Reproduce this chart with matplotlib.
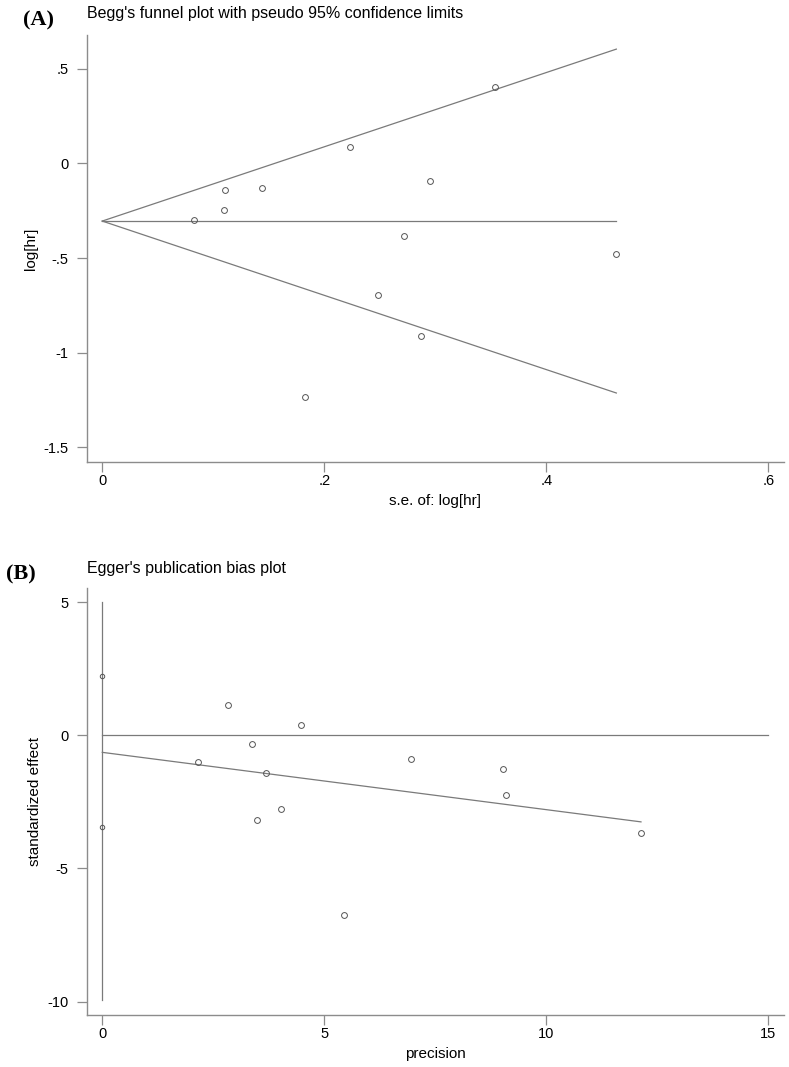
import matplotlib
matplotlib.use('Agg')
from matplotlib import pyplot as plt

# Panel A - Begg's funnel plot data
se_loghr = [0.083, 0.110, 0.111, 0.144, 0.183, 0.223, 0.248, 0.272, 0.287, 0.295, 0.354, 0.463]
loghr = [-0.301, -0.248, -0.141, -0.129, -1.235, 0.088, -0.694, -0.384, -0.913, -0.093, 0.404, -0.479]
pooled_loghr = -0.305
funnel_se = [0, 0.463]

# Panel B - Egger's plot data
precision = [12.13, 9.03, 9.08, 6.95, 5.45, 4.47, 4.03, 3.68, 3.48, 3.38, 2.83, 2.16]
std_effect = [-3.65, -1.26, -2.24, -0.88, -6.76, 0.40, -2.78, -1.41, -3.17, -0.32, 1.15, -1.02]
reg_x = [0, 12.13]
reg_y = [-0.64, -3.25]
ci_y = [5.0, -9.95]
ci_marks = [2.23, -3.46]
zero_x = [0, 15]

# tick labels
a_xticks = [0, 0.2, 0.4, 0.6]
a_xlabels = ['0', '.2', '.4', '.6']
a_yticks = [0.5, 0, -0.5, -1, -1.5]
a_ylabels = ['.5', '0', '-.5', '-1', '-1.5']
b_xticks = [0, 5, 10, 15]
b_yticks = [5, 0, -5, -10]

line_col = '#7a7a7a'
spine_col = '#8c8c8c'
W, H = 789, 1067

plt.rcParams['font.family'] = ['Liberation Sans', 'DejaVu Sans']
plt.rcParams['axes.unicode_minus'] = False

fig = plt.figure(figsize=(W / 100, H / 100), dpi=100)
fig.patch.set_facecolor('white')


def style_axis(ax):
    for s in ['top', 'right']:
        ax.spines[s].set_visible(False)
    for s in ['left', 'bottom']:
        ax.spines[s].set_color(spine_col)
        ax.spines[s].set_linewidth(1.0)
    ax.tick_params(length=7, width=0.9, color=spine_col, labelsize=10.5,
                   labelcolor='black', pad=2)
    ax.tick_params(axis='y', pad=6)


def px_axes(x0, x1, y0, y1):
    # pixel box -> figure fraction
    return fig.add_axes([x0 / W, 1 - y1 / H, (x1 - x0) / W, (y1 - y0) / H])


## Panel A
ax1 = px_axes(86.7, 784, 35, 461.7)
style_axis(ax1)
ax1.set_xlim(-0.014, 0.614)
ax1.set_ylim(-1.575, 0.677)
ax1.plot(funnel_se, [pooled_loghr, pooled_loghr], color=line_col, lw=0.9)
ax1.plot(funnel_se, [pooled_loghr + 1.96 * s for s in funnel_se], color=line_col, lw=0.9)
ax1.plot(funnel_se, [pooled_loghr - 1.96 * s for s in funnel_se], color=line_col, lw=0.9)
ax1.plot(se_loghr, loghr, 'o', ms=4.2, mfc='none', mec='#555555', mew=0.7)
ax1.set_xticks(a_xticks)
ax1.set_xticklabels(a_xlabels)
ax1.set_yticks(a_yticks)
ax1.set_yticklabels(a_ylabels)
ax1.set_xlabel('s.e. of: log[hr]', fontsize=11, labelpad=4)
ax1.set_ylabel('log[hr]', fontsize=11, labelpad=4)

fig.text(23 / W, 1 - 25 / H, '(A)', family='Liberation Serif', fontweight='bold',
         fontsize=16, va='baseline', ha='left')
fig.text(86.7 / W, 1 - 18.3 / H, "Begg's funnel plot with pseudo 95% confidence limits",
         fontsize=11.5, va='baseline', ha='left')

## Panel B
ax2 = px_axes(86.7, 784, 588, 1015)
style_axis(ax2)
ax2.set_xlim(-0.351, 15.35)
ax2.set_ylim(-10.5, 5.53)
ax2.plot(zero_x, [0, 0], color=line_col, lw=0.9)
ax2.plot([0, 0], ci_y, color=line_col, lw=0.9)
ax2.plot(reg_x, reg_y, color=line_col, lw=0.9)
ax2.plot([0] * len(ci_marks), ci_marks, 'o', ms=3.2, mfc='none', mec='#555555', mew=0.7)
ax2.plot(precision, std_effect, 'o', ms=4.2, mfc='none', mec='#555555', mew=0.7)
ax2.set_xticks(b_xticks)
ax2.set_yticks(b_yticks)
ax2.set_xlabel('precision', fontsize=11, labelpad=4)
ax2.set_ylabel('standardized effect', fontsize=11, labelpad=4)

fig.text(6 / W, 1 - 579 / H, '(B)', family='Liberation Serif', fontweight='bold',
         fontsize=16, va='baseline', ha='left')
fig.text(86.7 / W, 1 - 573.3 / H, "Egger's publication bias plot",
         fontsize=11.5, va='baseline', ha='left')

fig.savefig('out.png', dpi=100, facecolor='white')
